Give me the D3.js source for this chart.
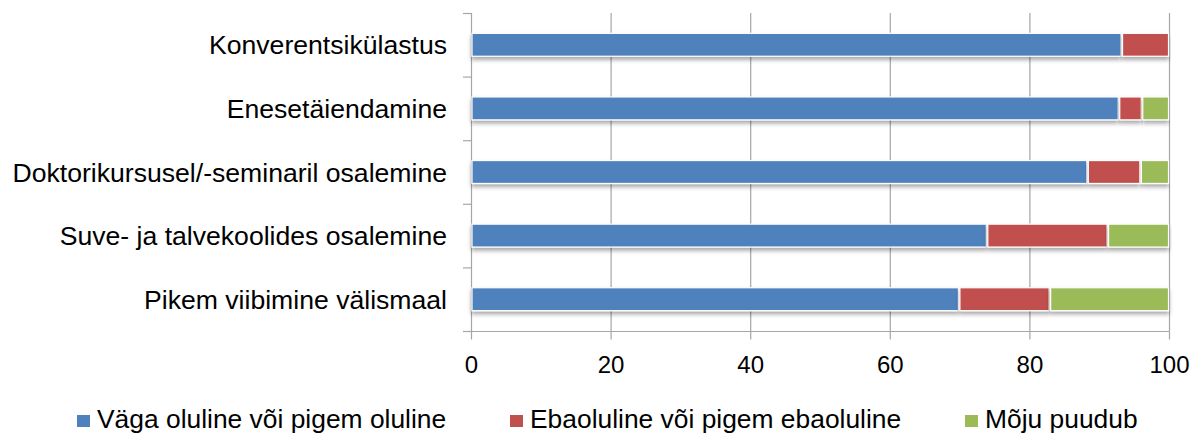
<!DOCTYPE html>
<html><head><meta charset="utf-8">
<script src="https://cdn.jsdelivr.net/npm/d3@7"></script>
<style>body{margin:0;background:#fff}svg{display:block}text{font-family:"Liberation Sans",Arial,sans-serif;fill:#000}</style>
</head><body>
<script>
const categories = ["Konverentsikülastus","Enesetäiendamine","Doktorikursusel/-seminaril osalemine","Suve- ja talvekoolides osalemine","Pikem viibimine välismaal"];
const seriesNames = ["Väga oluline või pigem oluline","Ebaoluline või pigem ebaoluline","Mõju puudub"];
const important = [93.2, 92.8, 88.3, 73.9, 69.9];
const unimportant = [6.8, 3.3, 7.6, 17.3, 13.0];
const noEffect = [0, 3.9, 4.1, 8.8, 17.1];
const xTicks = [0, 20, 40, 60, 80, 100];
const colors = ["#4F81BD", "#C0504D", "#9BBB59"];

const W = 1202, H = 435;
const svg = d3.select("body").append("svg").attr("width", W).attr("height", H);
const defs = svg.append("defs");
const f = defs.append("filter").attr("id","sh").attr("x","-5%").attr("y","-30%").attr("width","110%").attr("height","190%");
f.append("feDropShadow").attr("dx",0).attr("dy",3).attr("stdDeviation",2).attr("flood-color","#000").attr("flood-opacity",0.35);

const x = d3.scaleLinear().domain([0,100]).range([471,1169]);
const y = d3.scaleBand().domain(categories).range([13,331]).paddingInner(0.64).paddingOuter(0.32);

// gridlines
svg.append("g").selectAll("line").data(xTicks.slice(1)).join("line")
  .attr("x1", d=>x(d)+0.5).attr("x2", d=>x(d)+0.5).attr("y1",13).attr("y2",331)
  .attr("stroke","#a6a6a6").attr("stroke-width",1.2);

// x axis
const xa = svg.append("g").attr("transform","translate(0,331.5)")
  .call(d3.axisBottom(x).tickValues(xTicks).tickSize(8).tickPadding(16).tickSizeOuter(0));
xa.select(".domain").attr("stroke","#a6a6a6").attr("stroke-width",1.2).attr("d","M463,0H1169.5");
xa.selectAll(".tick line").attr("stroke","#a6a6a6").attr("stroke-width",1.2);
xa.selectAll(".tick text").attr("font-size","24px").attr("fill","#000").attr("font-family","'Liberation Sans',Arial,sans-serif");

// y axis line and ticks
const step = y.step();
const bounds = d3.range(categories.length+1).map(i=>13+i*step);
svg.append("line").attr("x1",471.5).attr("x2",471.5).attr("y1",13).attr("y2",331.5).attr("stroke","#a6a6a6").attr("stroke-width",1.2);
svg.append("g").selectAll("line").data(bounds).join("line")
  .attr("x1",463).attr("x2",471.5).attr("y1",d=>d+0.5).attr("y2",d=>d+0.5).attr("stroke","#a6a6a6").attr("stroke-width",1.2);

// stacked data
const data = categories.map((c,i)=>({cat:c, a:important[i], b:unimportant[i], c2:noEffect[i]}));
const stack = d3.stack().keys(["a","b","c2"])(data);
const g = svg.append("g");
stack.forEach((layer,k)=>{
  g.append("g").selectAll("rect").data(layer.filter(d=>d[1]-d[0]>0)).join("rect")
    .attr("x", d=>x(d[0])+1).attr("width", d=>x(d[1])-x(d[0])-1.5)
    .attr("y", d=>y(d.data.cat)).attr("height", y.bandwidth())
    .attr("fill", colors[k]).attr("stroke","#ffffff").attr("stroke-width",1.2)
    .attr("filter","url(#sh)");
});

// category labels
svg.append("g").selectAll("text").data(categories).join("text")
  .attr("x",447).attr("y",d=>y(d)+y.bandwidth()/2).attr("dy","0.36em")
  .attr("text-anchor","end").attr("font-size","26.6px").text(d=>d);

// legend
const legX = [77, 510, 965];
const lg = svg.append("g");
seriesNames.forEach((n,i)=>{
  lg.append("rect").attr("x",legX[i]).attr("y",415).attr("width",13).attr("height",12).attr("fill",colors[i]);
  lg.append("text").attr("x",legX[i]+20).attr("y",428).attr("font-size","26.4px").text(n);
});
</script>
</body></html>
